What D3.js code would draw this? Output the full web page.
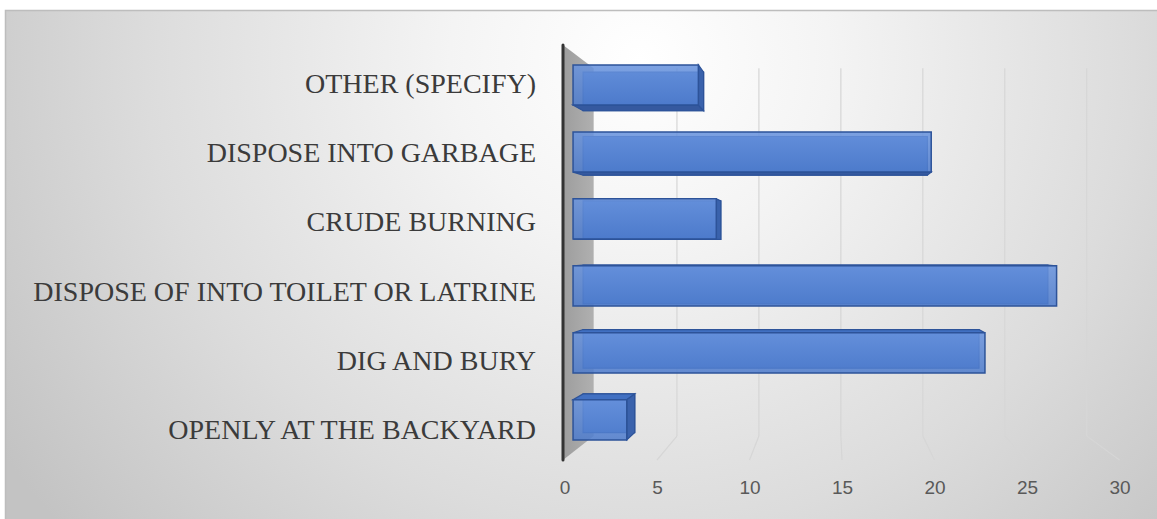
<!DOCTYPE html>
<html>
<head>
<meta charset="utf-8">
<script src="https://cdn.jsdelivr.net/npm/d3@7"></script>
<style>
  html, body { margin: 0; padding: 0; background: #ffffff; }
  svg { display: block; }
</style>
</head>
<body>
<svg id="chart" width="1157" height="519"></svg>
<script>
// Disposal methods, listed top to bottom as drawn
const categories = [
  "OTHER (SPECIFY)",
  "DISPOSE INTO GARBAGE",
  "CRUDE BURNING",
  "DISPOSE OF INTO TOILET OR LATRINE",
  "DIG AND BURY",
  "OPENLY AT THE BACKYARD"
];
const values = [7, 20, 8, 27, 23, 3];
const tickValues = [0, 5, 10, 15, 20, 25, 30];

const svg = d3.select("#chart");
const W = 1157, H = 519;

// front plane scales
const x = d3.scaleLinear().domain([0, 30]).range([564.5, 1119.5]);
const y = d3.scaleBand().domain(categories).range([45, 460]).paddingInner(0).paddingOuter(0);

// simple perspective: points recede toward a vanishing point as depth t grows (0 = front, 1 = back)
const VP = { x: 832, y: 250 };
const shrink = 0.114;
function proj(px, py, t) {
  const s = 1 - shrink * t;
  return [VP.x + (px - VP.x) * s, VP.y + (py - VP.y) * s];
}

const defs = svg.append("defs");
const bg = defs.append("radialGradient").attr("id", "bgGrad")
  .attr("gradientUnits", "userSpaceOnUse")
  .attr("cx", 640).attr("cy", 60).attr("r", 760)
  .attr("gradientTransform", "translate(640,60) scale(1,0.95) translate(-640,-60)");
bg.append("stop").attr("offset", 0).attr("stop-color", "#ffffff");
bg.append("stop").attr("offset", 0.25).attr("stop-color", "#f4f4f4");
bg.append("stop").attr("offset", 0.65).attr("stop-color", "#dcdcdc");
bg.append("stop").attr("offset", 1).attr("stop-color", "#c3c3c3");

const front = defs.append("linearGradient").attr("id", "barFront")
  .attr("x1", 0).attr("y1", 0).attr("x2", 0).attr("y2", 1);
front.append("stop").attr("offset", 0).attr("stop-color", "#6893de");
front.append("stop").attr("offset", 1).attr("stop-color", "#4d7bcc");

const wallGrad = defs.append("linearGradient").attr("id", "wallGrad")
  .attr("x1", 0).attr("y1", 0).attr("x2", 1).attr("y2", 0);
wallGrad.append("stop").attr("offset", 0).attr("stop-color", "#9d9d9d");
wallGrad.append("stop").attr("offset", 1).attr("stop-color", "#b0b0b0");

// chart area
svg.append("rect")
  .attr("x", 5.5).attr("y", 10.5)
  .attr("width", W + 10).attr("height", H + 10)
  .attr("fill", "url(#bgGrad)")
  .attr("stroke", "#bdbdbd").attr("stroke-width", 1.5);

const yTop = y.range()[0], yBot = y.range()[1];

// back-wall gridlines and floor lines
const grid = svg.append("g");
tickValues.filter(v => v > 0).forEach(v => {
  const bt = proj(x(v), yTop, 1), bb = proj(x(v), yBot, 1);
  grid.append("line")
    .attr("x1", bt[0]).attr("y1", bt[1]).attr("x2", bb[0]).attr("y2", bb[1])
    .attr("stroke", "#d6d6d6").attr("stroke-width", 1.2);
  grid.append("line")
    .attr("x1", bb[0]).attr("y1", bb[1]).attr("x2", x(v)).attr("y2", yBot)
    .attr("stroke", "#d6d6d6").attr("stroke-width", 1.2);
});

// side wall at zero
const w0 = x(0) - 1.5;
const wallPts = [[w0, yTop], proj(w0, yTop, 1), proj(w0, yBot, 1), [w0, yBot]];
svg.append("path")
  .attr("d", "M" + wallPts.map(p => p.join(",")).join("L") + "Z")
  .attr("fill", "url(#wallGrad)");
svg.append("line")
  .attr("x1", w0).attr("y1", yTop).attr("x2", w0).attr("y2", yBot)
  .attr("stroke", "#333333").attr("stroke-width", 3).attr("stroke-linecap", "round");

// 3D bars
const t0 = 0.28, t1 = 0.61;
const barFrac = 0.6;
const poly = pts => "M" + pts.map(p => p[0].toFixed(2) + "," + p[1].toFixed(2)).join("L") + "Z";
const edge = "#2d5399";

const bars = svg.append("g");
categories.forEach((c, i) => {
  const v = values[i];
  const bw = y.bandwidth();
  const top = y(c) + bw * (1 - barFrac) / 2;
  const bot = top + bw * barFrac;
  const xa = x(0), xb = x(v);
  const F = [proj(xa, top, t0), proj(xb, top, t0), proj(xb, bot, t0), proj(xa, bot, t0)];
  const B = [proj(xa, top, t1), proj(xb, top, t1), proj(xb, bot, t1), proj(xa, bot, t1)];
  const g = bars.append("g");

  // back face
  g.append("path").attr("d", poly(B))
    .attr("fill", "#4a77c6").attr("stroke", edge).attr("stroke-width", 1.2);

  // top or bottom face, whichever faces the eye
  if (top > VP.y) {
    g.append("path").attr("d", poly([F[0], F[1], B[1], B[0]]))
      .attr("fill", "#4170c2").attr("stroke", edge).attr("stroke-width", 1.2);
  } else {
    g.append("path").attr("d", poly([F[3], F[2], B[2], B[3]]))
      .attr("fill", "#35599f").attr("stroke", edge).attr("stroke-width", 1.2);
  }
  // right end face
  if (xb < VP.x) {
    g.append("path").attr("d", poly([F[1], B[1], B[2], F[2]]))
      .attr("fill", "#3a62ac").attr("stroke", edge).attr("stroke-width", 1.2);
  }
  // front face, slightly see-through so the back edges show
  g.append("path").attr("d", poly(F))
    .attr("fill", "url(#barFront)").attr("fill-opacity", 0.86)
    .attr("stroke", edge).attr("stroke-width", 1.5);
});

// category labels
const labels = svg.append("g");
categories.forEach(c => {
  labels.append("text")
    .attr("x", 536)
    .attr("y", y(c) + y.bandwidth() / 2 + 4)
    .attr("text-anchor", "end")
    .attr("dominant-baseline", "central")
    .attr("font-family", "'Liberation Serif', 'Times New Roman', serif")
    .attr("font-size", 28)
    .attr("fill", "#3b3b3b")
    .text(c);
});

// value axis labels
const axis = d3.axisBottom(x).tickValues(tickValues).tickSize(0).tickPadding(0);
const ax = svg.append("g").attr("transform", "translate(0,480)").call(axis);
ax.select(".domain").remove();
ax.selectAll("text")
  .attr("font-family", "'Liberation Sans', Arial, sans-serif")
  .attr("font-size", 19)
  .attr("fill", "#595959");
</script>
</body>
</html>
